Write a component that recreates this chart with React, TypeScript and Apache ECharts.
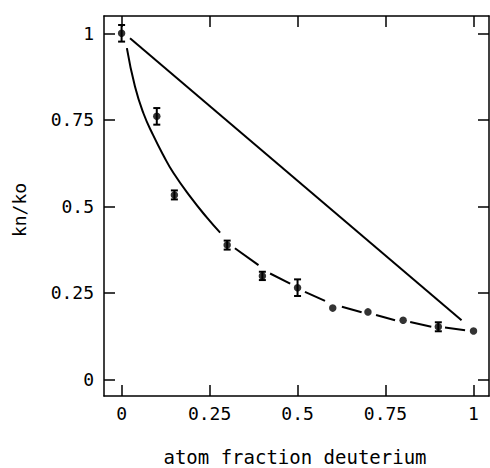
import React, { useEffect, useRef } from "react";
import * as echarts from "echarts";

// Measured points (atom fraction deuterium vs kn/ko)
const xValues = [0, 0.1, 0.15, 0.3, 0.4, 0.5, 0.6, 0.7, 0.8, 0.9, 1.0];
const yValues = [1.0, 0.76, 0.533, 0.388, 0.299, 0.265, 0.206, 0.195, 0.171, 0.152, 0.14];
const yErrors = [0.024, 0.024, 0.013, 0.013, 0.012, 0.024, 0, 0, 0, 0.013, 0];

// Straight reference line
const straightX = [0.024, 0.966];
const straightY = [0.986, 0.171];

// Fitted curve, solid part
const curveX = [0.015, 0.038, 0.062, 0.09, 0.12, 0.147, 0.195, 0.242, 0.28];
const curveY = [0.957, 0.846, 0.769, 0.705, 0.645, 0.597, 0.528, 0.468, 0.424];

// Fitted curve, dashed part: each dash as [x0, y0, x1, y1]
const dashSegments = [
  [0.322, 0.379, 0.389, 0.33],
  [0.422, 0.306, 0.479, 0.277],
  [0.521, 0.253, 0.578, 0.227],
  [0.626, 0.21, 0.682, 0.194],
  [0.723, 0.186, 0.777, 0.171],
  [0.82, 0.166, 0.88, 0.152],
  [0.919, 0.15, 0.976, 0.142],
];

const tickValues = [0, 0.25, 0.5, 0.75, 1];

const FONT = '"DejaVu Sans Mono", monospace';

export default function App() {
  const ref = useRef<HTMLDivElement>(null);
  useEffect(() => {
    if (!ref.current) return;
    const chart = echarts.init(ref.current, null, { renderer: "svg" });
    const axisCommon = {
      type: "value",
      splitLine: { show: false },
      axisLine: { show: true, onZero: false, lineStyle: { color: "#000", width: 1.5 } },
      axisTick: { show: true, inside: true, length: 11, customValues: tickValues, lineStyle: { color: "#000", width: 1.5 } },
    };
    chart.setOption({
      animation: false,
      backgroundColor: "#fff",
      grid: { left: 104, top: 16, width: 385, height: 380, containLabel: false },
      xAxis: [
        {
          ...axisCommon,
          position: "bottom",
          min: -0.05,
          max: 1.044,
          axisLabel: {
            show: true,
            customValues: tickValues,
            margin: 8,
            color: "#000",
            fontFamily: FONT,
            fontSize: 18,
            formatter: (v: number) => String(v),
          },
        },
        {
          ...axisCommon,
          position: "top",
          min: -0.05,
          max: 1.044,
          axisLabel: { show: false },
        },
      ],
      yAxis: [
        {
          ...axisCommon,
          position: "left",
          min: -0.048,
          max: 1.05,
          axisLabel: {
            show: true,
            customValues: tickValues,
            margin: 10,
            color: "#000",
            fontFamily: FONT,
            fontSize: 18,
            formatter: (v: number) => String(v),
          },
        },
        {
          ...axisCommon,
          position: "right",
          min: -0.048,
          max: 1.05,
          axisLabel: { show: false },
        },
      ],
      graphic: [
        {
          type: "text",
          x: 295,
          y: 457,
          style: {
            text: "atom fraction deuterium",
            fontFamily: FONT,
            fontSize: 19,
            fill: "#000",
            align: "center",
            verticalAlign: "middle",
          },
        },
        {
          type: "text",
          x: 19,
          y: 210,
          rotation: Math.PI / 2,
          style: {
            text: "kn/ko",
            fontFamily: FONT,
            fontSize: 18,
            fill: "#000",
            align: "center",
            verticalAlign: "middle",
          },
        },
      ],
      series: [
        {
          type: "line",
          data: straightX.map((x, i) => [x, straightY[i]]),
          symbol: "none",
          lineStyle: { color: "#000", width: 2 },
        },
        {
          type: "line",
          data: curveX.map((x, i) => [x, curveY[i]]),
          symbol: "none",
          smooth: 0.5,
          lineStyle: { color: "#000", width: 2 },
        },
        {
          type: "lines",
          coordinateSystem: "cartesian2d",
          data: dashSegments.map((s) => ({ coords: [[s[0], s[1]], [s[2], s[3]]] })),
          lineStyle: { color: "#000", width: 2, opacity: 1 },
        },
        {
          type: "custom",
          data: xValues.map((x, i) => [x, yValues[i], yErrors[i]]),
          encode: { x: 0, y: 1 },
          renderItem: (params: any, api: any) => {
            const x = api.value(0);
            const y = api.value(1);
            const e = api.value(2);
            if (!e) return null;
            const top = api.coord([x, y + e]);
            const bot = api.coord([x, y - e]);
            const hw = 3.5;
            const style = { stroke: "#000", lineWidth: 2 };
            return {
              type: "group",
              children: [
                { type: "line", shape: { x1: top[0], y1: top[1], x2: bot[0], y2: bot[1] }, style },
                { type: "line", shape: { x1: top[0] - hw, y1: top[1], x2: top[0] + hw, y2: top[1] }, style },
                { type: "line", shape: { x1: bot[0] - hw, y1: bot[1], x2: bot[0] + hw, y2: bot[1] }, style },
              ],
            };
          },
          z: 3,
        },
        {
          type: "scatter",
          data: xValues.map((x, i) => [x, yValues[i]]),
          symbol: "circle",
          symbolSize: 7.5,
          itemStyle: { color: "#000" },
          z: 4,
        },
      ],
    });
    return () => chart.dispose();
  }, []);
  return (
    <div
      ref={ref}
      style={{ position: "fixed", left: 0, top: 0, width: 490, height: 468, background: "#fff" }}
    />
  );
}
